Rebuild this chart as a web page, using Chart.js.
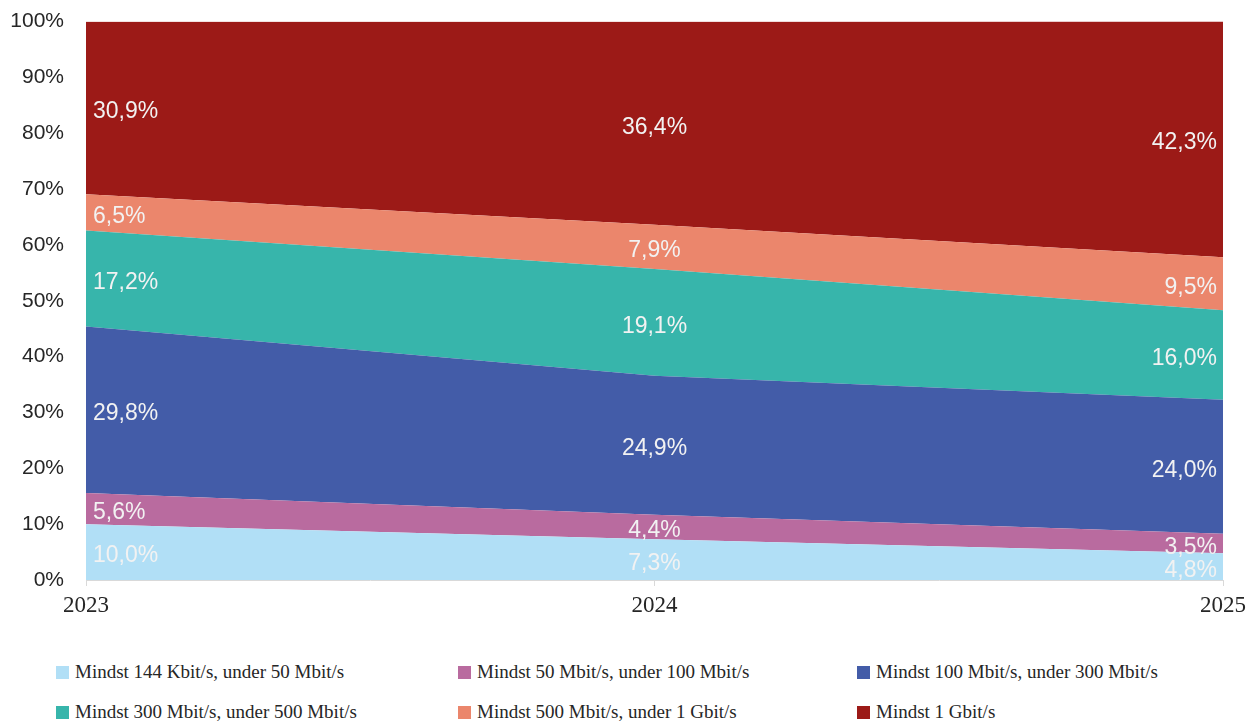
<!DOCTYPE html>
<html>
<head>
<meta charset="utf-8">
<script src="https://cdn.jsdelivr.net/npm/chart.js@4.4.1/dist/chart.umd.min.js"></script>
<style>
  html, body { margin: 0; padding: 0; background: #fff; }
  #wrap { position: relative; width: 1252px; height: 722px; overflow: hidden; }
  #c { position: absolute; left: 0; top: -5px; }
  #legend { position: absolute; left: 0; top: 660px; width: 1252px; font-family: "Liberation Serif", serif; font-size: 19px; color: #262626; }
  .item { position: absolute; white-space: nowrap; line-height: 24px; }
  .box { display: inline-block; width: 13px; height: 13px; margin-right: 6px; vertical-align: -1px; }
</style>
</head>
<body>
<div id="wrap">
  <canvas id="c" width="1252" height="640"></canvas>
  <div id="legend"></div>
</div>
<script>
const categories = ["2023", "2024", "2025"];
const seriesNames = [
  "Mindst 144 Kbit/s, under 50 Mbit/s",
  "Mindst 50 Mbit/s, under 100 Mbit/s",
  "Mindst 100 Mbit/s, under 300 Mbit/s",
  "Mindst 300 Mbit/s, under 500 Mbit/s",
  "Mindst 500 Mbit/s, under 1 Gbit/s",
  "Mindst 1 Gbit/s"
];
const s144k_50m = [10.0, 7.3, 4.8];
const s50m_100m = [5.6, 4.4, 3.5];
const s100m_300m = [29.8, 24.9, 24.0];
const s300m_500m = [17.2, 19.1, 16.0];
const s500m_1g = [6.5, 7.9, 9.5];
const s1g = [30.9, 36.4, 42.3];
const yTicks = [0, 10, 20, 30, 40, 50, 60, 70, 80, 90, 100];

const seriesValues = [s144k_50m, s50m_100m, s100m_300m, s300m_500m, s500m_1g, s1g];
const colors = ["#b1dff6", "#b96b9f", "#435ca8", "#37b5ab", "#eb866c", "#9c1a17"];

const datasets = seriesValues.map((vals, i) => ({
  label: seriesNames[i],
  data: vals,
  backgroundColor: colors[i],
  borderColor: colors[i],
  borderWidth: 0,
  pointRadius: 0,
  pointHoverRadius: 0,
  tension: 0,
  fill: i === 0 ? 'origin' : '-1'
}));

const labelPlugin = {
  id: 'areaLabels',
  afterDatasetsDraw(chart) {
    const ctx = chart.ctx;
    const x = chart.scales.x, y = chart.scales.y;
    ctx.save();
    ctx.font = '23px "Liberation Sans", Arial, sans-serif';
    ctx.fillStyle = '#f2f2f2';
    ctx.textBaseline = 'middle';
    categories.forEach((cat, j) => {
      let cum = 0;
      seriesValues.forEach((vals) => {
        const v = vals[j];
        const mid = Math.min(cum + v / 2, 100);
        cum += v;
        const py = y.getPixelForValue(mid);
        let px = x.getPixelForValue(j);
        if (j === 0) { ctx.textAlign = 'left'; px += 7; }
        else if (j === categories.length - 1) { ctx.textAlign = 'right'; px -= 6; }
        else { ctx.textAlign = 'center'; }
        ctx.fillText(v.toFixed(1).replace('.', ',') + '%', px, py + 4);
      });
    });
    ctx.restore();
  }
};

new Chart(document.getElementById('c'), {
  type: 'line',
  data: { labels: categories, datasets },
  options: {
    responsive: false,
    animation: false,
    events: [],
    layout: { padding: { top: 1, right: 27, left: 0, bottom: 0 } },
    plugins: { legend: { display: false }, tooltip: { enabled: false } },
    scales: {
      x: {
        offset: false,
        grid: { display: true, drawOnChartArea: false, drawTicks: true, tickLength: 6, color: '#d9d9d9' },
        border: { display: true, color: '#d9d9d9', width: 1 },
        ticks: { color: '#262626', font: { family: '"Liberation Serif", serif', size: 23 }, padding: 6, maxRotation: 0 },
        afterFit(s) { s.height = 55; }
      },
      y: {
        stacked: true,
        min: 0, max: 100,
        afterBuildTicks(s) { s.ticks = yTicks.map(v => ({ value: v })); },
        grid: { display: false },
        border: { display: false },
        ticks: { color: '#262626', font: { family: '"Liberation Sans", Arial, sans-serif', size: 21 }, padding: 14, callback: v => v + '%' },
        afterFit(s) { s.width = 86; }
      }
    }
  },
  plugins: [labelPlugin]
});

const legendPos = [
  [56, 0], [458, 0], [857, 0],
  [56, 40], [458, 40], [857, 40]
];
const order = [0, 1, 2, 3, 4, 5];
const leg = document.getElementById('legend');
order.forEach((i, k) => {
  const d = document.createElement('div');
  d.className = 'item';
  d.style.left = legendPos[k][0] + 'px';
  d.style.top = legendPos[k][1] + 'px';
  const b = document.createElement('span');
  b.className = 'box';
  b.style.background = colors[i];
  d.appendChild(b);
  d.appendChild(document.createTextNode(seriesNames[i]));
  leg.appendChild(d);
});
</script>
</body>
</html>
